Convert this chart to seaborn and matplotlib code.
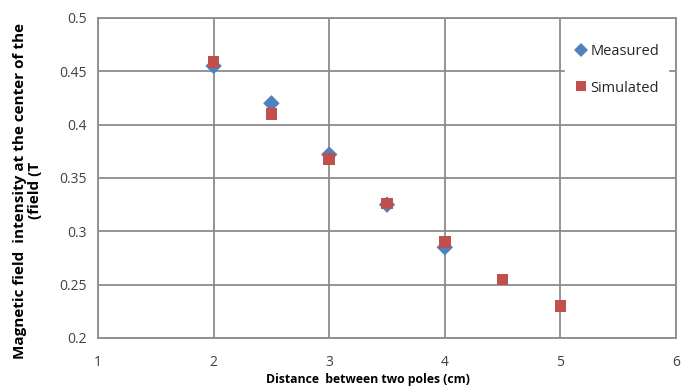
import matplotlib
matplotlib.use("Agg")
import matplotlib.pyplot as plt
import seaborn as sns
import pandas as pd

# Data
distance_measured = [2.0, 2.5, 3.0, 3.5, 4.0]
field_measured = [0.455, 0.420, 0.372, 0.325, 0.285]
distance_simulated = [2.0, 2.5, 3.0, 3.5, 4.0, 4.5, 5.0]
field_simulated = [0.459, 0.410, 0.368, 0.326, 0.290, 0.255, 0.230]
series_names = ["Measured", "Simulated"]
x_ticks = [1, 2, 3, 4, 5, 6]
y_ticks = [0.2, 0.25, 0.3, 0.35, 0.4, 0.45, 0.5]
y_tick_labels = ["0.2", "0.25", "0.3", "0.35", "0.4", "0.45", "0.5"]

df = pd.concat([
    pd.DataFrame({"x": distance_measured, "y": field_measured, "series": series_names[0]}),
    pd.DataFrame({"x": distance_simulated, "y": field_simulated, "series": series_names[1]}),
], ignore_index=True)

sns.set_theme(style="white")
plt.rcParams["font.family"] = ["Open Sans", "DejaVu Sans"]

fig = plt.figure(figsize=(6.81, 3.86), dpi=100)
ax = fig.add_axes([0.1439, 0.1244, 0.8488, 0.829])

grid_col = "#8c8c8c"
sns.scatterplot(data=df, x="x", y="y", hue="series", style="series",
                markers={"Measured": "D", "Simulated": "s"},
                palette={"Measured": "#4F81BD", "Simulated": "#C0504D"},
                s=70, linewidth=0, ax=ax, zorder=3)

ax.set_xlim(1, 6)
ax.set_ylim(0.2, 0.5)
ax.set_xticks(x_ticks)
ax.set_yticks(y_ticks)
ax.set_yticklabels(y_tick_labels)
ax.grid(True, color=grid_col, linewidth=1.3)
ax.set_axisbelow(True)
for sp in ax.spines.values():
    sp.set_color(grid_col)
    sp.set_linewidth(1.3)
ax.tick_params(axis="both", length=0, labelsize=10, colors="#404040")
ax.tick_params(axis="x", pad=12)
ax.tick_params(axis="y", pad=8)

ax.set_xlabel("")
ax.set_ylabel("Magnetic field  intensity at the center of the\n(field (T",
              fontsize=11, fontweight="bold", color="black", linespacing=1.05)
ax.yaxis.set_label_coords(-0.097, 0.46)
fig.text(0.54, 0.0, "Distance  between two poles (cm)", fontsize=8.8,
         fontweight="bold", ha="center", va="bottom", color="black")

leg = ax.legend(loc="upper left", bbox_to_anchor=(0.795, 0.97), frameon=True,
                fontsize=10.5, handletextpad=0.15, labelspacing=1.5,
                borderpad=0.6, markerscale=0.8, handlelength=1.0)
leg.get_frame().set_facecolor("white")
leg.get_frame().set_edgecolor("white")
leg.get_frame().set_alpha(1)
leg.get_frame().set_boxstyle("square", pad=0)

fig.savefig("out.png", dpi=100)
